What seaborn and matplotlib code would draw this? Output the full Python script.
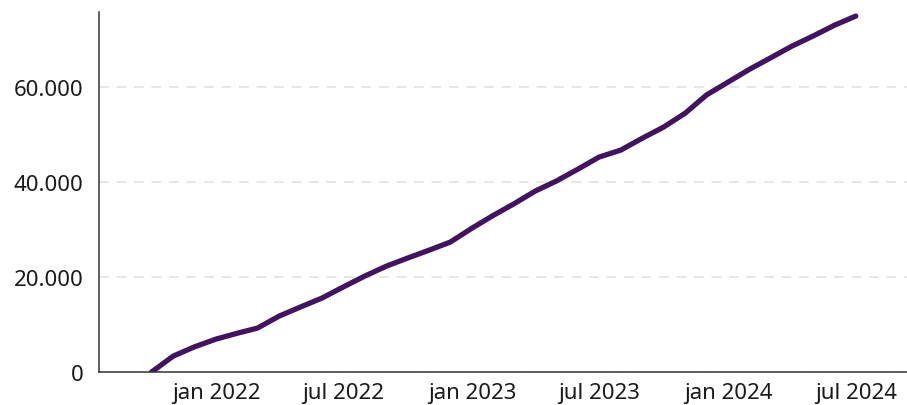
import pandas as pd
import seaborn as sns
import matplotlib.pyplot as plt
import matplotlib.dates as mdates
from matplotlib.ticker import FuncFormatter

# monthly cumulative totals
months = pd.date_range("2021-10-01", "2024-07-01", freq="MS")
totals = [
    0, 3370, 5300, 6950, 8210, 9260, 11790, 13680, 15580, 17890,
    20210, 22310, 24000, 25680, 27370, 30310, 33050, 35360, 38100,
    40210, 42730, 45260, 46730, 49260, 51570, 54520, 58310, 61050,
    63780, 66100, 68620, 70730, 73040, 74940,
]
ytick_values = [0, 20000, 40000, 60000]
month_names = {1: "jan", 7: "jul"}

df = pd.DataFrame({"datum": months, "totaal": totals})

sns.set_style("white")
plt.rcParams["font.family"] = ["Noto Sans", "DejaVu Sans"]

fig = plt.figure(figsize=(9.07, 4.06), dpi=100)
ax = fig.add_axes([0.109, 0.081, 0.891, 0.887])

sns.lineplot(data=df, x="datum", y="totaal", color="#42145f", linewidth=3.8, ax=ax)

ax.set_xlim(pd.Timestamp("2021-07-18"), pd.Timestamp("2024-09-12"))
ax.set_ylim(0, 75800)
ax.set_yticks(ytick_values)
ax.yaxis.set_major_formatter(FuncFormatter(lambda v, p: f"{int(v):,}".replace(",", ".")))

ax.xaxis.set_major_locator(mdates.MonthLocator(bymonth=[1, 7]))
ax.xaxis.set_major_formatter(FuncFormatter(
    lambda v, p: f"{month_names[mdates.num2date(v).month]} {mdates.num2date(v).year}"))

ax.set_xlabel("")
ax.set_ylabel("")
ax.grid(axis="y", color="#e6e6e6", linestyle=(0, (5, 4)), linewidth=1.4)
ax.grid(axis="x", visible=False)
ax.set_axisbelow(True)

sns.despine(ax=ax)
for side in ["left", "bottom"]:
    ax.spines[side].set_color("#333333")
    ax.spines[side].set_linewidth(1.1)
ax.tick_params(axis="y", length=4, width=1.1, color="#333333", labelsize=16, pad=7, labelcolor="#1a1a1a")
ax.tick_params(axis="x", length=5, width=1.1, color="#333333", labelsize=16, pad=2, labelcolor="#1a1a1a")

plt.savefig("out.png", dpi=100)
